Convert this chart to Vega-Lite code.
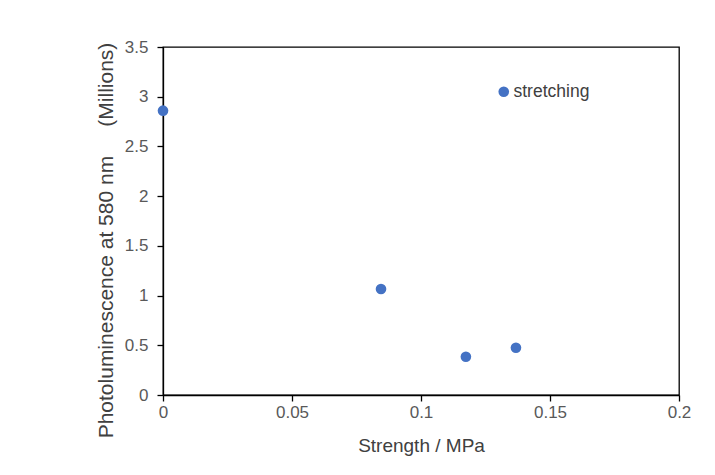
{
  "$schema": "https://vega.github.io/schema/vega-lite/v6.json",
  "autosize": "none",
  "width": 516,
  "height": 348,
  "padding": {"left": 163, "top": 47, "right": 36, "bottom": 80},
  "background": "white",
  "data": {"values": [
    {"strength": 0.0, "pl": 2.86, "series": "stretching"},
    {"strength": 0.0845, "pl": 1.066, "series": "stretching"},
    {"strength": 0.1174, "pl": 0.385, "series": "stretching"},
    {"strength": 0.1368, "pl": 0.475, "series": "stretching"}
  ]},
  "mark": {"type": "point", "filled": true, "opacity": 1, "size": 113, "shape": "circle"},
  "encoding": {
    "x": {"field": "strength", "type": "quantitative", "title": "Strength / MPa",
      "scale": {"domain": [0, 0.2], "nice": false},
      "axis": {"values": [0, 0.05, 0.1, 0.15, 0.2], "format": "~g", "grid": false, "labelFlush": false, "labelPadding": 3,
        "titleY": 56, "titleBaseline": "alphabetic", "titleFontSize": 19}},
    "y": {"field": "pl", "type": "quantitative", "title": "Photoluminescence at 580 nm\u00a0\u00a0\u00a0\u00a0\u00a0(Millions)",
      "scale": {"domain": [0, 3.5], "nice": false},
      "axis": {"values": [0, 0.5, 1, 1.5, 2, 2.5, 3, 3.5], "format": "~g", "grid": false, "labelFlush": false, "labelPadding": 9,
        "titleX": -47, "titleY": 193, "titleBaseline": "bottom", "titleFontSize": 21}},
    "color": {"field": "series", "type": "nominal", "title": null,
      "scale": {"range": ["#4472C4"]},
      "legend": {"orient": "none", "legendX": 332, "legendY": 36, "symbolSize": 113, "labelFontSize": 17.5, "labelColor": "#404040", "labelFont": "Liberation Sans", "symbolOffset": 0, "labelOffset": 1}}
  },
  "config": {
    "view": {"stroke": "black", "strokeWidth": 1.3},
    "axis": {
      "domainColor": "black", "domainWidth": 1.3, "tickColor": "black", "tickSize": 6, "tickWidth": 1.3,
      "labelFont": "Liberation Sans", "labelFontSize": 17, "labelColor": "#595959",
      "titleFont": "Liberation Sans", "titleFontWeight": "normal", "titleColor": "#404040"
    }
  }
}
